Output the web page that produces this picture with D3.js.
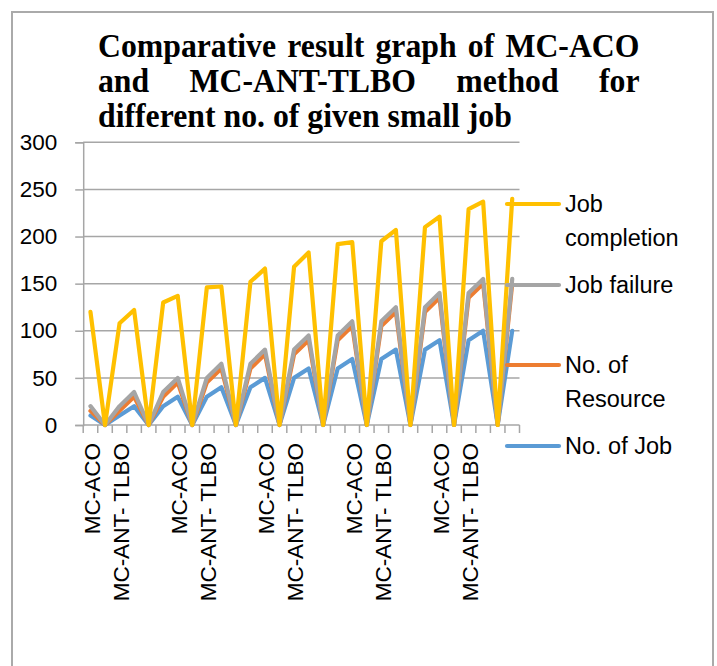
<!DOCTYPE html>
<html>
<head>
<meta charset="utf-8">
<script src="https://cdn.jsdelivr.net/npm/d3@7"></script>
<style>
  html, body { margin: 0; padding: 0; background: #fff; }
  svg { display: block; }
</style>
</head>
<body>
<svg id="chart" width="717" height="666"></svg>
<script>
// ---------------- DATA ----------------
const categories = [
  "MC-ACO", "", "MC-ANT- TLBO",
  "MC-ACO", "", "MC-ANT- TLBO",
  "MC-ACO", "", "MC-ANT- TLBO",
  "MC-ACO", "", "MC-ANT- TLBO",
  "MC-ACO", "", "MC-ANT- TLBO",
  "MC-ACO", "", "MC-ANT- TLBO",
  "MC-ACO", "", "MC-ANT- TLBO",
  "MC-ACO", "", "MC-ANT- TLBO",
  "MC-ACO", "", "MC-ANT- TLBO",
  "MC-ACO", "", "MC-ANT- TLBO"
];
const noOfJob      = [10,0,10, 20,0,20, 30,0,30, 40,0,40, 50,0,50, 60,0,60, 70,0,70, 80,0,80, 90,0,90, 100,0,100];
const noOfResource = [15,0,15, 30,0,30, 45,0,45, 60,0,60, 75,0,75, 90,0,90, 105,0,105, 120,0,120, 135,0,135, 150,0,150];
const jobFailure   = [20,0,20, 35,0,35, 50,0,50, 65,0,65, 80,0,80, 95,0,95, 110,0,110, 125,0,125, 140,0,140, 155,0,155];
const jobCompletion= [120,0,108, 122,0,130, 137,0,146, 147,0,152, 166,0,168, 183,0,192, 194,0,195, 207,0,210, 221,0,229, 237,0,240];
const yTicks = [0, 50, 100, 150, 200, 250, 300];
const seriesNames = ["No. of Job", "No. of Resource", "Job failure", "Job completion"];
const titleLines = [
  "Comparative result graph of MC-ACO",
  "and MC-ANT-TLBO method for",
  "different no. of given small job"
];

// ---------------- STYLE / LAYOUT ----------------
const colors = {"No. of Job": "#5B9BD5", "No. of Resource": "#ED7D31", "Job failure": "#A5A5A5", "Job completion": "#FFC000"};
const seriesData = {"No. of Job": noOfJob, "No. of Resource": noOfResource, "Job failure": jobFailure, "Job completion": jobCompletion};
const plot = {left: 83.2, right: 519.5, top: 142.3, bottom: 425};
const axisFont = "'Liberation Sans', Arial, sans-serif";
const gridColor = "#a6a6a6";

const svg = d3.select("#chart");
svg.append("rect").attr("x", 0).attr("y", 0).attr("width", 717).attr("height", 666).attr("fill", "#fff");

// outer border
svg.append("rect")
  .attr("x", 12).attr("y", 12).attr("width", 701).attr("height", 680)
  .attr("fill", "none").attr("stroke", "#aaaaaa").attr("stroke-width", 2);

// scales
const idx = categories.map((d, i) => i);
const x = d3.scaleBand().domain(idx).range([plot.left, plot.right]).padding(0);
const y = d3.scaleLinear().domain([0, 300]).range([plot.bottom, plot.top]);
const cx = i => x(i) + x.bandwidth() / 2;

// gridlines
svg.append("g").selectAll("line").data(yTicks.filter(t => t > 0)).join("line")
  .attr("x1", plot.left).attr("x2", plot.right)
  .attr("y1", d => y(d)).attr("y2", d => y(d))
  .attr("stroke", gridColor).attr("stroke-width", 1.5);

// y axis
const yAxis = d3.axisLeft(y).tickValues(yTicks).tickSize(8).tickPadding(18).tickFormat(d3.format("d"));
const gy = svg.append("g").attr("transform", `translate(${plot.left},0)`).call(yAxis);
gy.select(".domain").attr("stroke", gridColor).attr("stroke-width", 1.5);
gy.selectAll(".tick line").attr("stroke", gridColor).attr("stroke-width", 1.5);
gy.selectAll(".tick text").attr("font-family", axisFont).attr("font-size", 22.5).attr("fill", "#000");

// x axis: line + boundary ticks
const gx = svg.append("g");
gx.append("line").attr("x1", plot.left).attr("x2", plot.right)
  .attr("y1", plot.bottom).attr("y2", plot.bottom)
  .attr("stroke", gridColor).attr("stroke-width", 1.5);
const bounds = idx.map(i => x(i)).concat([x(idx.length - 1) + x.bandwidth()]);
gx.selectAll("line.tk").data(bounds).join("line").attr("class", "tk")
  .attr("x1", d => d).attr("x2", d => d)
  .attr("y1", plot.bottom).attr("y2", plot.bottom + 8)
  .attr("stroke", gridColor).attr("stroke-width", 1.5);
// labels: every second category shown
gx.selectAll("text").data(idx.filter(i => i % 2 === 0 && categories[i] !== "")).join("text")
  .attr("transform", i => `translate(${cx(i) + 1.5},443) rotate(-90)`)
  .attr("text-anchor", "end").attr("dy", "0.35em")
  .attr("font-family", axisFont).attr("font-size", 22.5).attr("fill", "#000")
  .text(i => categories[i]);

// lines
const line = d3.line().x((d, i) => cx(i)).y(d => y(d));
seriesNames.forEach(name => {
  svg.append("path").datum(seriesData[name])
    .attr("d", line).attr("fill", "none")
    .attr("stroke", colors[name]).attr("stroke-width", 4.2)
    .attr("stroke-linejoin", "round").attr("stroke-linecap", "round");
});

// legend
const legendItems = [
  {name: "Job completion", y: 204, lines: ["Job", "completion"]},
  {name: "Job failure", y: 285, lines: ["Job failure"]},
  {name: "No. of Resource", y: 365, lines: ["No. of", "Resource"]},
  {name: "No. of Job", y: 446, lines: ["No. of Job"]}
];
const lg = svg.append("g");
legendItems.forEach(it => {
  lg.append("line").attr("x1", 507).attr("x2", 559).attr("y1", it.y).attr("y2", it.y)
    .attr("stroke", colors[it.name]).attr("stroke-width", 4.2).attr("stroke-linecap", "round");
  const t = lg.append("text").attr("x", 565).attr("y", it.y)
    .attr("font-family", axisFont).attr("font-size", 23.5).attr("fill", "#000");
  it.lines.forEach((ln, k) => {
    t.append("tspan").attr("x", 565).attr("dy", k === 0 ? "0.35em" : 34).text(ln);
  });
});

// title (justified lines, slightly condensed serif)
const titleFont = "'Liberation Serif', 'Times New Roman', serif";
const baselines = [57, 92, 127];
const tx0 = 98, tx1 = 639.5, lastEnd = 512;
const tg = svg.append("g");
const lineEls = titleLines.map((ln, li) => ln.split(" ").map(w => tg.append("text").attr("y", baselines[li])
    .attr("font-family", titleFont).attr("font-weight", "bold").attr("font-size", 33)
    .attr("fill", "#000").text(w)));
// natural width of last line determines horizontal condensation
const spaceW = (() => {
  const t = tg.append("text").attr("font-family", titleFont).attr("font-weight", "bold").attr("font-size", 33).text("a a");
  const t2 = tg.append("text").attr("font-family", titleFont).attr("font-weight", "bold").attr("font-size", 33).text("aa");
  const w = t.node().getComputedTextLength() - t2.node().getComputedTextLength();
  t.remove(); t2.remove();
  return w;
})();
const lastW = lineEls[2].map(e => e.node().getComputedTextLength());
const lastNatural = lastW.reduce((a, b) => a + b, 0) + spaceW * (lastW.length - 1);
const sx = (lastEnd - tx0) / lastNatural;
tg.attr("transform", `translate(${tx0},0) scale(${sx},1) translate(${-tx0},0)`);
lineEls.forEach((els, li) => {
  const widths = els.map(e => e.node().getComputedTextLength());
  const total = widths.reduce((a, b) => a + b, 0);
  const justify = li < lineEls.length - 1;
  const gap = justify ? ((tx1 - tx0) / sx - total) / (els.length - 1) : spaceW;
  let xx = tx0;
  els.forEach((e, k) => { e.attr("x", xx); xx += widths[k] + gap; });
});
</script>
</body>
</html>
